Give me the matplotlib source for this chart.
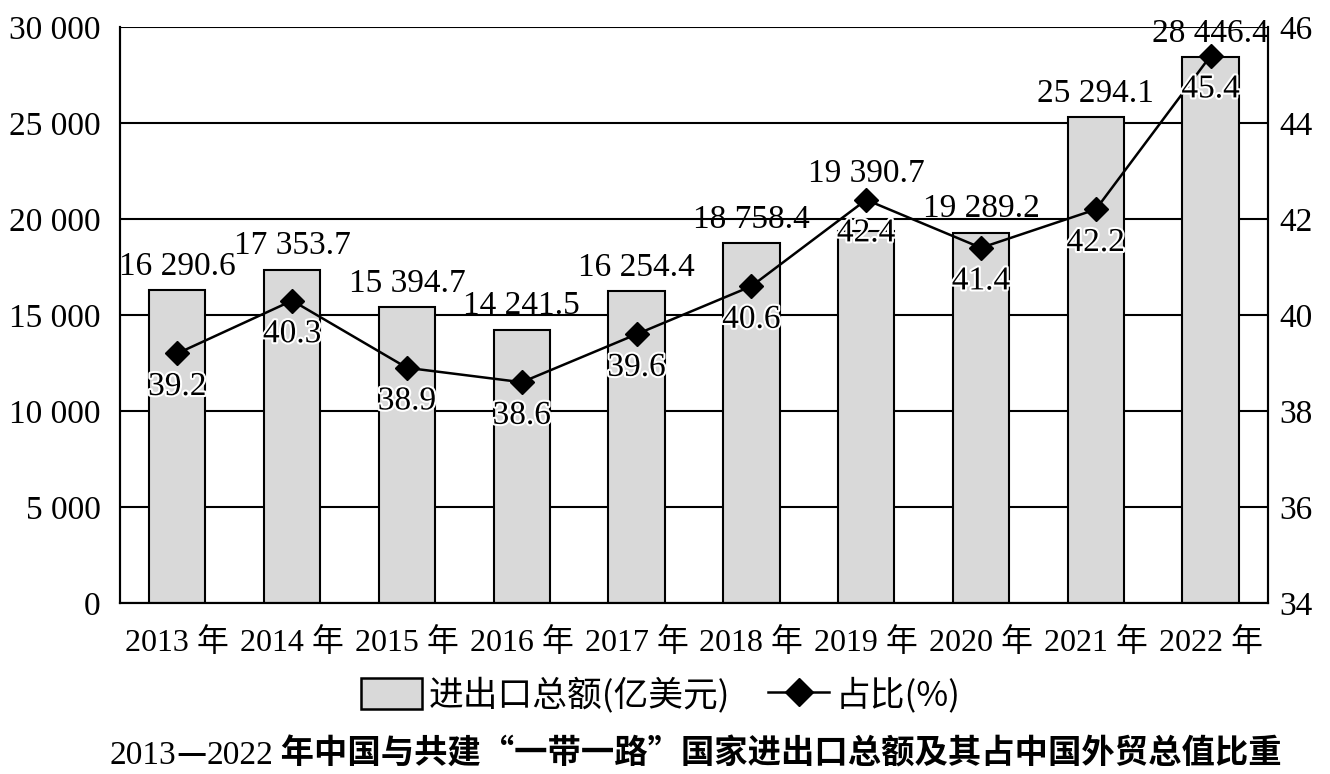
import matplotlib
matplotlib.use('Agg')
import matplotlib.pyplot as plt
import matplotlib.patheffects as pe
from matplotlib.lines import Line2D
from matplotlib.patches import Patch
from matplotlib.ticker import FuncFormatter

# data
years = ['2013', '2014', '2015', '2016', '2017', '2018', '2019', '2020', '2021', '2022']
trade_total = [16290.6, 17353.7, 15394.7, 14241.5, 16254.4, 18758.4, 19390.7, 19289.2, 25294.1, 28446.4]
trade_labels = ['16 290.6', '17 353.7', '15 394.7', '14 241.5', '16 254.4',
                '18 758.4', '19 390.7', '19 289.2', '25 294.1', '28 446.4']
share_pct = [39.2, 40.3, 38.9, 38.6, 39.6, 40.6, 42.4, 41.4, 42.2, 45.4]

SERIF = 'Liberation Serif'
CJK = 'Noto Sans CJK SC'
FAM = [SERIF, CJK, 'DejaVu Sans']
plt.rcParams['font.family'] = FAM
plt.rcParams['axes.linewidth'] = 1.5

fig = plt.figure(figsize=(13.3, 7.74), dpi=100)
ax = fig.add_axes([0.0902, 0.2209, 0.8632, 0.7442])
ax2 = ax.twinx()

x = list(range(len(years)))
ax.bar(x, trade_total, width=0.49, color='#d9d9d9', edgecolor='black', linewidth=1.5, zorder=2)
ax.set_xlim(-0.5, 9.5)
ax.set_ylim(0, 30000)
ax.set_yticks(range(0, 30001, 5000))
ax.yaxis.set_major_formatter(FuncFormatter(lambda v, p: '{:,}'.format(int(v)).replace(',', ' ')))
ax.grid(axis='y', color='black', linewidth=1.5, zorder=0)
ax.set_axisbelow(True)
ax.set_xticks(x)
ax.set_xticklabels([y + ' 年' for y in years])
ax.tick_params(axis='y', length=0, labelsize=24, pad=14)
ax.tick_params(axis='x', length=0, labelsize=23, pad=18)

# labels above bars (2019 label sits higher to clear the marker)
lift = [6, 6, 6, 6, 6, 6, 30, 6, 6, 6]
for i, v in enumerate(trade_total):
    ax.annotate(trade_labels[i], (i, v), xytext=(0, lift[i]), textcoords='offset points',
                ha='center', va='bottom', fontsize=24, zorder=5)

ax2.plot(x, share_pct, color='black', linewidth=1.8, marker='D', markersize=12, zorder=4)
ax2.set_ylim(34, 46)
ax2.set_yticks(range(34, 47, 2))
ax2.tick_params(axis='y', length=0, labelsize=24, pad=8)
for i, v in enumerate(share_pct):
    ax2.annotate('%.1f' % v, (i, v), xytext=(0, -24), textcoords='offset points',
                 ha='center', va='center', fontsize=24, zorder=6,
                 path_effects=[pe.withStroke(linewidth=3, foreground='white')])

for a in (ax, ax2):
    a.spines['top'].set_visible(False)

handles = [Patch(facecolor='#d9d9d9', edgecolor='black', linewidth=1.8),
           Line2D([0], [0], color='black', linewidth=1.8, marker='D', markersize=14)]
fig.legend(handles, ['进出口总额(亿美元)', '占比(%)'], loc='center', bbox_to_anchor=(0.497, 0.101),
           ncol=2, frameon=False, prop={'family': [CJK, SERIF], 'size': 25},
           handlelength=1.75, handleheight=1.0, handletextpad=0.2, columnspacing=1.1,
           borderpad=0.1)

# title: serif digits, bold CJK text
pieces = [('2013', SERIF, 'normal'), ('—', CJK, 'bold'), ('2022', SERIF, 'normal'),
          (' 年中国与共建“一带一路”国家进出口总额及其占中国外贸总值比重', CJK, 'bold')]
renderer = fig.canvas.get_renderer()
texts = []
cur = 0.0
for s, fam, w in pieces:
    t = fig.text(0, 0.0129, s, ha='left', va='baseline', fontsize=24, family=fam, fontweight=w)
    bb = t.get_window_extent(renderer)
    texts.append((t, cur))
    cur += bb.width
W = fig.bbox.width
start = 0.523 * W - cur / 2
for t, off in texts:
    t.set_x((start + off) / W)

fig.savefig('out.png', dpi=100)
